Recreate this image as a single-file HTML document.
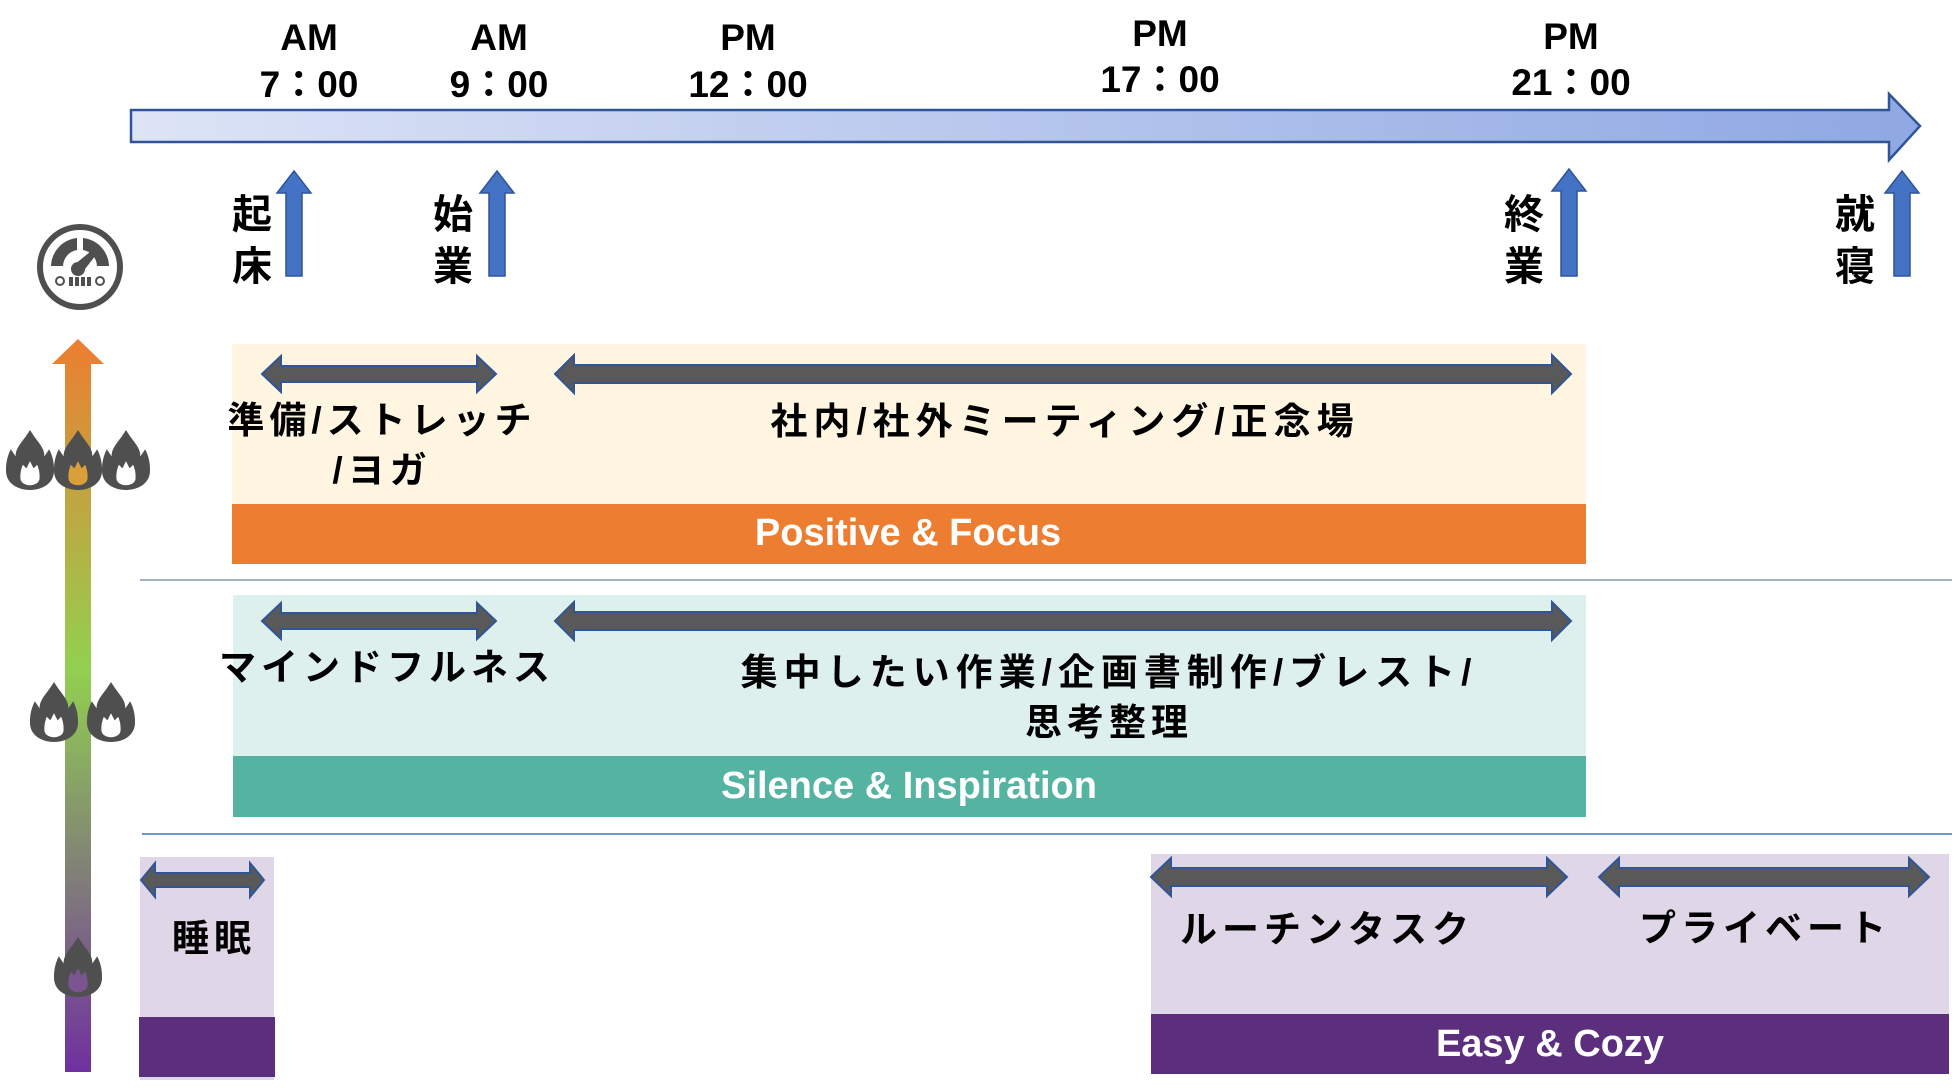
<!DOCTYPE html>
<html><head><meta charset="utf-8"><style>
html,body{margin:0;padding:0;background:#fff;}
svg{display:block;}
text{font-family:"Liberation Sans","Noto Sans CJK JP",sans-serif;font-weight:bold;}
.jp{letter-spacing:5px;}
.jp6{letter-spacing:6px;}
</style></head><body>
<svg width="1955" height="1090" viewBox="0 0 1955 1090" xmlns="http://www.w3.org/2000/svg">
<defs>
<linearGradient id="tl" x1="0" y1="0" x2="1" y2="0">
<stop offset="0" stop-color="#DDE4F6"/><stop offset="1" stop-color="#8FA8E3"/>
</linearGradient>
<linearGradient id="va" x1="0" y1="0" x2="0" y2="1">
<stop offset="0" stop-color="#ED7D31"/><stop offset="0.45" stop-color="#92D050"/><stop offset="0.75" stop-color="#7F7A7A"/><stop offset="1" stop-color="#7030A0"/>
</linearGradient>
<g id="flame">
<path d="M20,0 C26,10 32,14 32,22 L36,16 C40,24 40,30 40,34 C40,44 31,50 20,50 C9,50 0,44 0,34 C0,30 0,24 4,16 L8,22 C8,14 14,10 20,0Z" fill="#4F4F4F"/>
</g>
<path id="inner" d="M20,26 L23,32 L26,29 C28,34 28,37 28,40 C28,44 24,46 20,46 C16,46 12,44 12,40 C12,37 12,34 14,29 L17,32Z"/>
</defs>

<polygon points="131,110 1889,110 1889,94 1920,126 1889,160 1889,142 131,142" fill="url(#tl)" stroke="#2F5597" stroke-width="2.5"/>

<g font-size="37" text-anchor="middle" fill="#000">
<text x="309" y="50">AM</text><text x="309" y="97">7：00</text>
<text x="499" y="50">AM</text><text x="499" y="97">9：00</text>
<text x="748" y="50">PM</text><text x="748" y="97">12：00</text>
<text x="1160" y="46">PM</text><text x="1160" y="92">17：00</text>
<text x="1571" y="49">PM</text><text x="1571" y="95">21：00</text>
</g>

<g fill="#4472C4" stroke="#2F5597" stroke-width="1.5">
<polygon points="286,276 286,193 277,193 294,171 311,193 302,193 302,276"/>
<polygon points="489,276 489,193 480,193 497,171 514,193 505,193 505,276"/>
<polygon points="1561,276 1561,191 1552,191 1569,169 1586,191 1577,191 1577,276"/>
<polygon points="1894,276 1894,193 1885,193 1902,171 1919,193 1910,193 1910,276"/>
</g>
<g font-size="40" text-anchor="middle" fill="#000">
<text x="252" y="228">起</text><text x="252" y="280">床</text>
<text x="453" y="228">始</text><text x="453" y="280">業</text>
<text x="1524" y="228">終</text><text x="1524" y="280">業</text>
<text x="1855" y="228">就</text><text x="1855" y="280">寝</text>
</g>

<g transform="translate(80,267)">
<circle r="40" fill="none" stroke="#4F4F4F" stroke-width="6"/>
<path d="M-29,-1 A29,29 0 0 1 -3,-29 L-3,-17 A17,17 0 0 0 -17,-1Z" fill="#4F4F4F"/>
<path d="M3,-29 A29,29 0 0 1 29,-1 L17,-1 A17,17 0 0 0 3,-17Z" fill="#4F4F4F"/>
<polygon points="-6,-2 16,-20 19,-16 2,6" fill="#4F4F4F"/>
<circle cx="-2" cy="2" r="7" fill="#4F4F4F"/>
<rect x="-11" y="10" width="4" height="9" fill="#4F4F4F"/><rect x="-5" y="10" width="4" height="9" fill="#4F4F4F"/>
<rect x="1" y="10" width="4" height="9" fill="#4F4F4F"/><rect x="7" y="10" width="4" height="9" fill="#4F4F4F"/>
<circle cx="-20" cy="14" r="4" fill="none" stroke="#4F4F4F" stroke-width="2"/><circle cx="20" cy="14" r="4" fill="none" stroke="#4F4F4F" stroke-width="2"/>
</g>

<polygon points="65,1072 65,364 52,364 78,339 104,364 91,364 91,1072" fill="url(#va)"/>

<g transform="translate(6,430) scale(1.2)"><use href="#flame"/><use href="#inner" fill="#fff"/></g>
<g transform="translate(54,430) scale(1.2)"><use href="#flame"/><use href="#inner" fill="#D9A03A"/></g>
<g transform="translate(102,430) scale(1.2)"><use href="#flame"/><use href="#inner" fill="#fff"/></g>
<g transform="translate(30,682) scale(1.2)"><use href="#flame"/><use href="#inner" fill="#fff"/></g>
<g transform="translate(87,682) scale(1.2)"><use href="#flame"/><use href="#inner" fill="#fff"/></g>
<g transform="translate(54,937) scale(1.2)"><use href="#flame"/><use href="#inner" fill="#7A5590"/></g>

<rect x="232" y="344" width="1354" height="160" fill="#FFF5E0"/>
<rect x="232" y="504" width="1354" height="60" fill="#ED7D31"/>
<text x="908" y="545" font-size="38" fill="#fff" text-anchor="middle">Positive &amp; Focus</text>
<rect x="233" y="595" width="1353" height="161" fill="#DEF0ED"/>
<rect x="233" y="756" width="1353" height="61" fill="#55B3A2"/>
<text x="909" y="798" font-size="38" fill="#fff" text-anchor="middle">Silence &amp; Inspiration</text>
<line x1="140" y1="580" x2="1952" y2="580" stroke="#8497B0" stroke-width="1.5"/>
<line x1="142" y1="834" x2="1952" y2="834" stroke="#4472C4" stroke-width="1.5"/>
<rect x="140" y="857" width="134" height="223" fill="#DFD6E7"/>
<rect x="139" y="1017" width="136" height="60" fill="#5C2E7E"/>
<rect x="1151" y="854" width="798" height="220" fill="#DFD6E7"/>
<rect x="1151" y="1014" width="798" height="60" fill="#5C2E7E"/>
<text x="1550" y="1056" font-size="38" fill="#fff" text-anchor="middle">Easy &amp; Cozy</text>

<g fill="#595959" stroke="#2F5597" stroke-width="2">
<polygon points="262,374 281,356 281,366 477,366 477,356 496,374 477,392 477,382 281,382 281,392"/>
<polygon points="555,374 574,355 574,365 1552,365 1552,355 1571,374 1552,393 1552,383 574,383 574,393"/>
<polygon points="262,621 281,603 281,613 477,613 477,603 496,621 477,639 477,629 281,629 281,639"/>
<polygon points="555,621 574,602 574,612 1552,612 1552,602 1571,621 1552,640 1552,630 574,630 574,640"/>
<polygon points="141,880 155,863 155,873 250,873 250,863 264,880 250,897 250,887 155,887 155,897"/>
<polygon points="1151,877 1171,858 1171,868 1547,868 1547,858 1567,877 1547,896 1547,886 1171,886 1171,896"/>
<polygon points="1599,877 1619,858 1619,868 1909,868 1909,858 1929,877 1909,896 1909,886 1619,886 1619,896"/>
</g>

<g font-size="37" text-anchor="middle" fill="#000">
<text class="jp" x="382" y="433">準備/ストレッチ</text>
<text class="jp" x="382" y="483">/ヨガ</text>
<text class="jp6" x="1065" y="434">社内/社外ミーティング/正念場</text>
<text class="jp" x="387" y="680">マインドフルネス</text>
<text class="jp6" x="1109" y="685">集中したい作業/企画書制作/ブレスト/</text>
<text class="jp" x="1109" y="735">思考整理</text>
<text class="jp" x="214" y="951">睡眠</text>
<text class="jp" x="1327" y="942">ルーチンタスク</text>
<text class="jp" x="1765" y="941">プライベート</text>
</g>
</svg>
</body></html>
